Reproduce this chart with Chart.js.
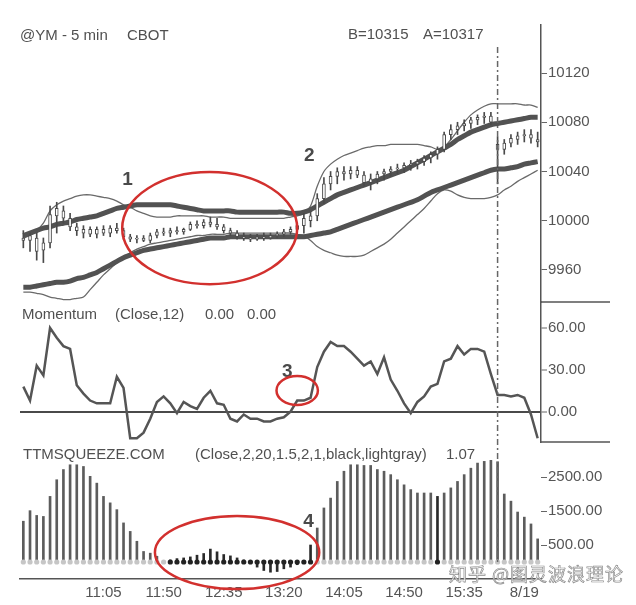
<!DOCTYPE html>
<html>
<head>
<meta charset="utf-8">
<script src="https://cdn.jsdelivr.net/npm/chart.js@4.4.1/dist/chart.umd.min.js"></script>
<style>
  html, body { margin: 0; padding: 0; background: #fff; }
  #wrap { position: relative; width: 636px; height: 605px; }
  #mark { position: absolute; left: 449px; top: 564px; font-size: 18px; line-height: 1;
          font-family: "Noto Sans CJK SC"; color: #fff; -webkit-text-stroke: 0.7px #8c8c8c; letter-spacing: 1px; }
</style>
</head>
<body>
<div id="wrap">
  <canvas id="chart" width="636" height="605"></canvas>
  <div id="mark">知乎 @图灵波浪理论</div>
</div>
<script>
// ---- data ----
var sessionDates = ['8/18', '8/19'];
var barsPerDay = [71, 7];
var xTickLabels = ['11:05', '11:50', '12:35', '13:20', '14:05', '14:50', '15:35', '8/19'];
var priceTicks = [9960, 10000, 10040, 10080, 10120];
var momTicks = [0, 30, 60];
var ttmTicks = [500, 1500, 2500];

var barOpen = [9986,9984,9986,9976,9982,10004,10008,10002,9995,9990, 9993,9989,9993,9990,9994,9992,9987,9985,9986,9984,
  9988,9991,9990,9992,9991,9993,9997,9996,9999,9997, 9995,9992,9990,9987,9986,9985,9987,9986,9988,9989,
  9991,9993,9996,10000,10004,10018,10030,10036,10040,10038, 10041,10037,10031,10034,10038,10040,10042,10043,10045,10046,
  10048,10051,10054,10058,10070,10074,10077,10079,10082,10084, 10085,10062,10058,10063,10066,10069,10070,10066];
var barHigh = [9992,9990,9990,9986,10012,10015,10012,10006,9998,9996, 9995,9995,9996,9996,9998,9994,9989,9988,9988,9990,
  9993,9994,9994,9995,9994,9999,10000,10001,10003,10002, 9997,9994,9992,9990,9989,9989,9990,9990,9991,9993,
  9995,9998,10006,10008,10022,10035,10040,10043,10044,10044, 10044,10040,10038,10040,10042,10044,10046,10047,10049,10050,
  10053,10056,10060,10072,10078,10080,10082,10084,10086,10088, 10088,10068,10066,10070,10072,10074,10074,10072];
var barLow = [9978,9975,9968,9966,9978,9990,9998,9992,9988,9986, 9987,9986,9988,9987,9990,9985,9983,9982,9983,9982,
  9986,9988,9987,9989,9989,9992,9994,9994,9995,9993, 9990,9988,9985,9984,9983,9984,9984,9985,9986,9987,
  9989,9991,9990,9995,10000,10014,10025,10030,10033,10034, 10035,10028,10025,10030,10033,10036,10038,10039,10041,10042,
  10045,10047,10050,10056,10066,10070,10073,10075,10078,10079, 10078,10030,10054,10060,10062,10064,10063,10060];
var barClose = [9984,9988,9975,9982,10005,10010,10002,9995,9992,9993, 9989,9993,9990,9994,9992,9987,9985,9986,9984,9988,
  9991,9990,9992,9991,9993,9997,9996,9999,9997,9995, 9992,9990,9987,9986,9985,9987,9986,9988,9989,9991,
  9993,9996,10002,10004,10018,10030,10036,10040,10038,10041, 10037,10031,10034,10038,10040,10042,10043,10045,10046,10048,
  10051,10054,10058,10070,10074,10077,10079,10082,10084,10085, 10080,10058,10063,10067,10069,10070,10067,10064];

// keltner channel (thick) and bollinger bands (thin)
var kcUpper = [9988,9990,9992,9994,9995,9997,9998,9999,10001,10002, 10003,10004,10006,10008,10010,10011,10012,10013,10013,10013,
  10013,10013,10013,10012,10011,10010,10009,10008,10008,10008, 10008,10008,10007,10007,10007,10007,10007,10007,10007,10007,
  10006,10006,10007,10009,10012,10015,10018,10021,10023,10025, 10027,10029,10031,10033,10035,10037,10039,10041,10044,10047,
  10050,10053,10056,10059,10062,10066,10069,10072,10074,10076, 10078,10079,10080,10081,10082,10083,10084,10084];
var kcLower = [9946,9946,9947,9948,9949,9950,9950,9951,9953,9954, 9956,9958,9961,9964,9967,9970,9972,9974,9976,9977,
  9978,9979,9980,9981,9982,9983,9984,9985,9986,9986, 9986,9987,9987,9987,9987,9987,9987,9987,9987,9987,
  9987,9987,9987,9988,9989,9990,9991,9993,9995,9997, 9999,10001,10003,10005,10007,10009,10011,10013,10015,10017,
  10020,10023,10025,10027,10029,10031,10033,10035,10037,10039, 10041,10042,10042,10043,10044,10046,10047,10048];
var bbUpper = [9986,9988,9992,9998,10008,10013,10016,10018,10020,10021, 10021,10020,10019,10018,10016,10013,10011,10008,10006,10004,
  10003,10003,10003,10004,10004,10004,10004,10004,10003,10003, 10003,10002,10002,10002,10002,10002,10002,10002,10002,10002,
  10003,10004,10006,10012,10028,10040,10046,10050,10053,10055, 10057,10059,10060,10061,10061,10062,10062,10062,10062,10062,
  10061,10060,10058,10060,10066,10073,10080,10086,10090,10093, 10095,10095,10095,10095,10095,10094,10094,10092];
var bbLower = [9942,9942,9941,9940,9938,9937,9936,9936,9937,9938, 9944,9950,9956,9961,9966,9970,9974,9977,9979,9981,
  9982,9983,9984,9985,9986,9987,9988,9988,9989,9989, 9989,9990,9990,9990,9990,9990,9990,9990,9990,9990,
  9990,9989,9988,9984,9979,9976,9974,9972,9971,9971, 9971,9972,9975,9978,9981,9985,9990,9995,10000,10005,
  10010,10016,10022,10025,10024,10021,10019,10018,10018,10018, 10019,10021,10025,10028,10032,10035,10038,10041];

var momentum = [18,8,33,26,60,53,47,45,19,13, 8,6,6,6,25,17,-19,-19,-15,-5,
  7,11,6,-1,7,4,2,10,15,6, 5,-5,-7,-2,-5,-5,-7,-7,-5,-4,
  0,8,8,10,32,43,50,47,47,43, 38,33,36,27,39,23,15,6,-1,7,
  11,18,20,36,38,47,41,45,45,43, 27,12,12,11,12,10,-2,-19];

var ttm = [1200,1510,1370,1340,1930,2420,2720,2860,2860,2810, 2520,2320,1930,1740,1540,1150,900,610,310,260,
  170,50,60,100,120,150,200,250,380,300, 220,180,120,60,-50,-150,-250,-300,-280,-200,
  -150,-80,50,500,1000,1590,1880,2370,2670,2860, 2860,2840,2840,2720,2670,2570,2420,2270,2130,2030,
  2030,2030,1930,2030,2180,2370,2570,2760,2910,2960, 2990,2950,2000,1790,1470,1320,1120,680];
var squeezeOn = [0,0,0,0,0,0,0,0,0,0, 0,0,0,0,0,0,0,0,0,0,
  0,0,1,1,1,1,1,1,1,1, 1,1,1,1,1,1,1,1,1,1,
  1,1,1,1,0,0,0,0,0,0, 0,0,0,0,0,0,0,0,0,0,
  0,0,1,0,0,0,0,0,0,0, 0,0,0,0,0,0,0,0];

// annotations in data units (bar index, axis value)
var circles = [
  { axis: 'yP', x: 27.9, y: 9994, rx: 13.1, ry: 45.5 },
  { axis: 'yM', x: 41.0, y: 15.2, rx: 3.1, ry: 10.4 },
  { axis: 'yT', x: 32.0, y: 280, rx: 12.3, ry: 1075 }
];
var marks = [
  { axis: 'yP', x: 15.6, y: 10033, text: '1' },
  { axis: 'yP', x: 42.8, y: 10053, text: '2' },
  { axis: 'yM', x: 39.5, y: 28.8, text: '3' },
  { axis: 'yT', x: 42.7, y: 1190, text: '4' }
];

// ---- bar labels: 5 min bars ----
var barTimes = [], barDates = [];
var dayStart = [10 * 60 + 5, 9 * 60 + 30];
for (var d = 0; d < sessionDates.length; d++) {
  for (var k = 0; k < barsPerDay[d]; k++) {
    var m = dayStart[d] + 5 * k;
    barTimes.push(Math.floor(m / 60) + ':' + String(m % 60).padStart(2, '0'));
    barDates.push(sessionDates[d]);
  }
}
var dayBreak = barsPerDay[0];
var firstTick = barTimes.indexOf(xTickLabels[0]);

var FONT = 'Liberation Sans';
var INK = '#505050';

var wicks = barHigh.map(function (h, i) { return [barLow[i], h]; });
var bodies = barOpen.map(function (o, i) {
  var lo = Math.min(o, barClose[i]), hi = Math.max(o, barClose[i]);
  if (hi - lo < 1) { lo -= 0.5; hi += 0.5; }
  return [lo, hi];
});

function yAxis(weight, min, max, ticks, fmt, extra) {
  var o = {
    position: 'right', stack: 'panes', stackWeight: weight, min: min, max: max,
    border: { display: true, color: '#555', width: 1.5 },
    grid: { drawOnChartArea: false, tickLength: 6, color: '#666', tickColor: '#666', tickWidth: 1 },
    ticks: { padding: 1, color: '#555', font: { family: FONT, size: 15 }, callback: fmt },
    afterBuildTicks: function (s) { s.ticks = ticks.map(function (v) { return { value: v }; }); },
    afterFit: function (s) { s.width = 95; }
  };
  return Object.assign(o, extra || {});
}

var overlay = {
  id: 'overlay',
  afterDatasetsDraw: function (chart) {
    var ctx = chart.ctx, s = chart.scales;
    var bx = s.x.getPixelForValue(dayBreak);
    ctx.save();
    ctx.strokeStyle = '#666';
    ctx.lineWidth = 1.5;
    ctx.setLineDash([6, 3, 2, 3]);
    ctx.beginPath();
    ctx.moveTo(bx, s.yP.top + 22);
    ctx.lineTo(bx, s.yT.getPixelForValue(0));
    ctx.stroke();
    ctx.restore();
  },
  afterDraw: function (chart) {
    var ctx = chart.ctx, s = chart.scales, a = chart.chartArea;
    ctx.save();
    // pane separators on the price axis side
    ctx.strokeStyle = '#555';
    ctx.lineWidth = 1.5;
    [s.yM.top, s.yM.bottom].forEach(function (y) {
      ctx.beginPath(); ctx.moveTo(a.right, y); ctx.lineTo(a.right + 69, y); ctx.stroke();
    });

    // headers
    ctx.fillStyle = INK;
    ctx.textBaseline = 'middle';
    ctx.font = '15px "' + FONT + '"';
    ctx.fillText('@YM - 5 min', 20, 36);
    ctx.fillText('CBOT', 127, 36);
    ctx.fillText('B=10315', 348, 35);
    ctx.fillText('A=10317', 423, 35);
    ctx.fillText('Momentum', 22, s.yM.top + 13);
    ctx.fillText('(Close,12)', 115, s.yM.top + 13);
    ctx.fillText('0.00', 205, s.yM.top + 13);
    ctx.fillText('0.00', 247, s.yM.top + 13);
    ctx.fillText('TTMSQUEEZE.COM', 23, s.yT.top + 13);
    ctx.fillText('(Close,2,20,1.5,2,1,black,lightgray)', 195, s.yT.top + 13);
    ctx.fillText('1.07', 446, s.yT.top + 13);

    // numbered marks
    ctx.font = 'bold 19px "' + FONT + '"';
    ctx.textAlign = 'center';
    ctx.fillStyle = '#4a4a4a';
    marks.forEach(function (n) {
      ctx.fillText(n.text, s.x.getPixelForValue(n.x), s[n.axis].getPixelForValue(n.y));
    });

    // red ellipses
    ctx.strokeStyle = '#d2302e';
    ctx.lineWidth = 2.5;
    circles.forEach(function (c) {
      var sx = s.x, sy = s[c.axis];
      var cx = sx.getPixelForValue(c.x), cy = sy.getPixelForValue(c.y);
      var rx = Math.abs(sx.getPixelForValue(c.x + c.rx) - cx);
      var ry = Math.abs(sy.getPixelForValue(c.y + c.ry) - cy);
      ctx.beginPath();
      ctx.ellipse(cx, cy, rx, ry, 0, 0, Math.PI * 2);
      ctx.stroke();
    });
    ctx.restore();
  }
};

var ctx = document.getElementById('chart').getContext('2d');
var chart = new Chart(ctx, {
  type: 'bar',
  data: {
    labels: barTimes,
    datasets: [
      { type: 'bar', data: bodies, yAxisID: 'yP', grouped: false, barThickness: 3, backgroundColor: '#fff',
        borderColor: '#4a4a4a', borderWidth: 1, borderSkipped: false, order: 0 },
      { type: 'bar', data: wicks, yAxisID: 'yP', grouped: false, barThickness: 1, backgroundColor: '#4a4a4a', order: 1 },
      { type: 'line', data: kcUpper, yAxisID: 'yP', borderColor: '#525252', borderWidth: 5, pointRadius: 0, tension: 0.3, order: 3 },
      { type: 'line', data: kcLower, yAxisID: 'yP', borderColor: '#525252', borderWidth: 5, pointRadius: 0, tension: 0.3, order: 3 },
      { type: 'line', data: bbUpper, yAxisID: 'yP', borderColor: '#6a6a6a', borderWidth: 1.3, pointRadius: 0, tension: 0.3, order: 4 },
      { type: 'line', data: bbLower, yAxisID: 'yP', borderColor: '#6a6a6a', borderWidth: 1.3, pointRadius: 0, tension: 0.3, order: 4 },
      { type: 'line', data: momentum, yAxisID: 'yM', borderColor: '#555', borderWidth: 2.5, pointRadius: 0, tension: 0, order: 2 },
      { type: 'line', data: barTimes.map(function () { return 0; }), yAxisID: 'yT', showLine: false,
        pointRadius: 2.6, pointBorderWidth: 0,
        pointBackgroundColor: squeezeOn.map(function (f) { return f ? '#222' : '#c6c6c6'; }), order: 1 },
      { type: 'bar', data: ttm, yAxisID: 'yT', grouped: false, barThickness: 2,
        backgroundColor: squeezeOn.map(function (f) { return f ? '#2a2a2a' : '#5c5c5c'; }), order: 5 }
    ]
  },
  options: {
    responsive: false,
    animation: false,
    layout: { padding: { left: 20, top: 25, right: 0, bottom: 0 } },
    plugins: { legend: { display: false }, tooltip: { enabled: false } },
    scales: {
      x: {
        type: 'category', offset: true,
        grid: { display: false, drawTicks: false },
        border: { display: true, color: '#555', width: 1.5 },
        ticks: {
          autoSkip: false, maxRotation: 0, padding: 5, color: '#555', font: { family: FONT, size: 15 },
          callback: function (v, i) {
            if (i < firstTick || (i - firstTick) % 9) return null;
            return xTickLabels[(i - firstTick) / 9];
          }
        },
        afterFit: function (s) { s.height = 26; }
      },
      yP: yAxis(277, 9934, 10159, priceTicks, function (v) { return String(v); }),
      yM: yAxis(140, -21.7, 78.6, momTicks, function (v) { return v.toFixed(2); }, {
        grid: {
          drawOnChartArea: true, tickLength: 6, tickColor: '#666', tickWidth: 1, lineWidth: 2,
          color: function (c) { return c.tick && c.tick.value === 0 ? '#4a4a4a' : 'rgba(0,0,0,0)'; }
        }
      }),
      yT: yAxis(137, -500, 3530, ttmTicks, function (v) { return v.toFixed(2); }, {
        border: { display: false }
      })
    }
  },
  plugins: [overlay]
});
</script>
</body>
</html>
